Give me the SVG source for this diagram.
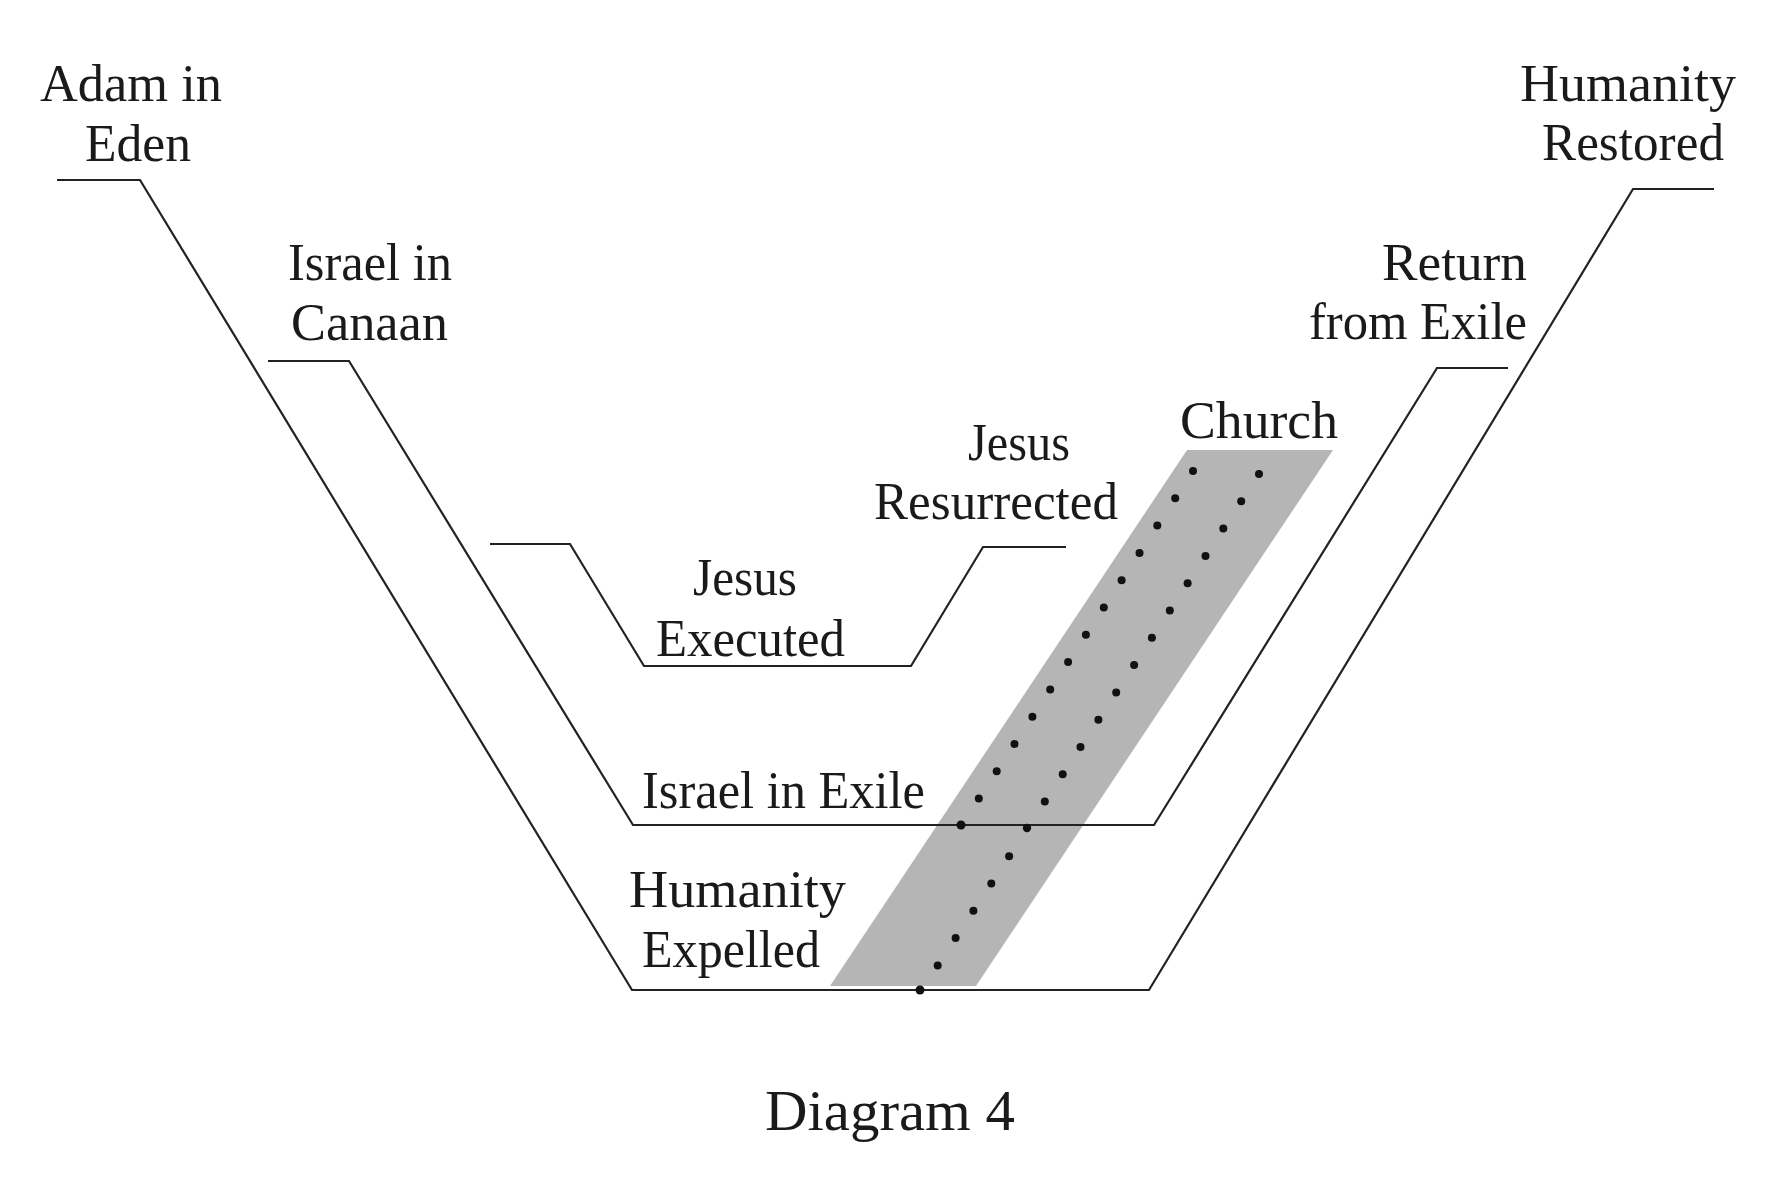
<svg xmlns="http://www.w3.org/2000/svg" width="1770" height="1183" viewBox="0 0 1770 1183">
<style>
.lbl{font-family:"Liberation Serif","Times New Roman",serif;font-size:53px;fill:#1a1a1a}
.title{font-family:"Liberation Serif","Times New Roman",serif;font-size:57px;fill:#1a1a1a}
.ln{fill:none;stroke:#222;stroke-width:2.2;stroke-linejoin:miter}
.dot{fill:#111}
</style>
<rect width="1770" height="1183" fill="#fff"/>
<g id="church-band">
<polygon points="1187,450 1333,450 976,986 830,986" fill="#b5b5b5"/>
</g>
<g id="connectors">
<path class="ln" d="M57,180 H140 L632,990 H1149 L1633,189 H1714"/>
<path class="ln" d="M268,361 H349 L633,825 H1154 L1437,368 H1508"/>
<path class="ln" d="M490,544 H570 L644,666 H911 L983,547 H1066"/>
</g>
<g id="church-dots">
<circle class="dot" cx="1193" cy="471" r="4"/>
<circle class="dot" cx="1175.2" cy="498.3" r="4"/>
<circle class="dot" cx="1157.3" cy="525.6" r="4"/>
<circle class="dot" cx="1139.5" cy="552.9" r="4"/>
<circle class="dot" cx="1121.6" cy="580.2" r="4"/>
<circle class="dot" cx="1103.8" cy="607.5" r="4"/>
<circle class="dot" cx="1085.9" cy="634.8" r="4"/>
<circle class="dot" cx="1068.1" cy="662.1" r="4"/>
<circle class="dot" cx="1050.2" cy="689.4" r="4"/>
<circle class="dot" cx="1032.4" cy="716.7" r="4"/>
<circle class="dot" cx="1014.5" cy="744" r="4"/>
<circle class="dot" cx="996.7" cy="771.3" r="4"/>
<circle class="dot" cx="978.8" cy="798.6" r="4"/>
<circle class="dot" cx="961" cy="825" r="4.5"/>
<circle class="dot" cx="1259" cy="474" r="4"/>
<circle class="dot" cx="1241.2" cy="501.3" r="4"/>
<circle class="dot" cx="1223.3" cy="528.6" r="4"/>
<circle class="dot" cx="1205.5" cy="555.9" r="4"/>
<circle class="dot" cx="1187.6" cy="583.2" r="4"/>
<circle class="dot" cx="1169.8" cy="610.5" r="4"/>
<circle class="dot" cx="1151.9" cy="637.8" r="4"/>
<circle class="dot" cx="1134.1" cy="665.1" r="4"/>
<circle class="dot" cx="1116.2" cy="692.4" r="4"/>
<circle class="dot" cx="1098.4" cy="719.7" r="4"/>
<circle class="dot" cx="1080.5" cy="747" r="4"/>
<circle class="dot" cx="1062.7" cy="774.3" r="4"/>
<circle class="dot" cx="1044.8" cy="801.6" r="4"/>
<circle class="dot" cx="1027" cy="828" r="4.2"/>
<circle class="dot" cx="1009.1" cy="856.2" r="4"/>
<circle class="dot" cx="991.3" cy="883.5" r="4"/>
<circle class="dot" cx="973.4" cy="910.8" r="4"/>
<circle class="dot" cx="955.6" cy="938.1" r="4"/>
<circle class="dot" cx="937.7" cy="965.4" r="4"/>
<circle class="dot" cx="920" cy="990" r="4.5"/>
</g>
<g id="adam-in-eden">
<text class="lbl" x="40" y="101" textLength="182" lengthAdjust="spacingAndGlyphs">Adam in</text>
<text class="lbl" x="85" y="161" textLength="106" lengthAdjust="spacingAndGlyphs">Eden</text>
</g>
<g id="israel-in-canaan">
<text class="lbl" x="288" y="280" textLength="164" lengthAdjust="spacingAndGlyphs">Israel in</text>
<text class="lbl" x="291" y="340" textLength="157" lengthAdjust="spacingAndGlyphs">Canaan</text>
</g>
<g id="humanity-restored">
<text class="lbl" x="1520" y="101" textLength="216" lengthAdjust="spacingAndGlyphs">Humanity</text>
<text class="lbl" x="1542" y="160" textLength="182" lengthAdjust="spacingAndGlyphs">Restored</text>
</g>
<g id="return-from-exile">
<text class="lbl" x="1382" y="280" textLength="145" lengthAdjust="spacingAndGlyphs">Return</text>
<text class="lbl" x="1309" y="339" textLength="218" lengthAdjust="spacingAndGlyphs">from Exile</text>
</g>
<g id="church">
<text class="lbl" x="1180" y="438" textLength="158" lengthAdjust="spacingAndGlyphs">Church</text>
</g>
<g id="jesus-resurrected">
<text class="lbl" x="968" y="460" textLength="102" lengthAdjust="spacingAndGlyphs">Jesus</text>
<text class="lbl" x="874" y="519" textLength="244" lengthAdjust="spacingAndGlyphs">Resurrected</text>
</g>
<g id="jesus-executed">
<text class="lbl" x="693" y="595" textLength="104" lengthAdjust="spacingAndGlyphs">Jesus</text>
<text class="lbl" x="656" y="656" textLength="189" lengthAdjust="spacingAndGlyphs">Executed</text>
</g>
<g id="israel-in-exile">
<text class="lbl" x="642" y="808" textLength="283" lengthAdjust="spacingAndGlyphs">Israel in Exile</text>
</g>
<g id="humanity-expelled">
<text class="lbl" x="629" y="907" textLength="217" lengthAdjust="spacingAndGlyphs">Humanity</text>
<text class="lbl" x="642" y="967" textLength="178" lengthAdjust="spacingAndGlyphs">Expelled</text>
</g>
<g id="caption">
<text class="title" x="765" y="1130" textLength="250" lengthAdjust="spacingAndGlyphs">Diagram 4</text>
</g>
</svg>
